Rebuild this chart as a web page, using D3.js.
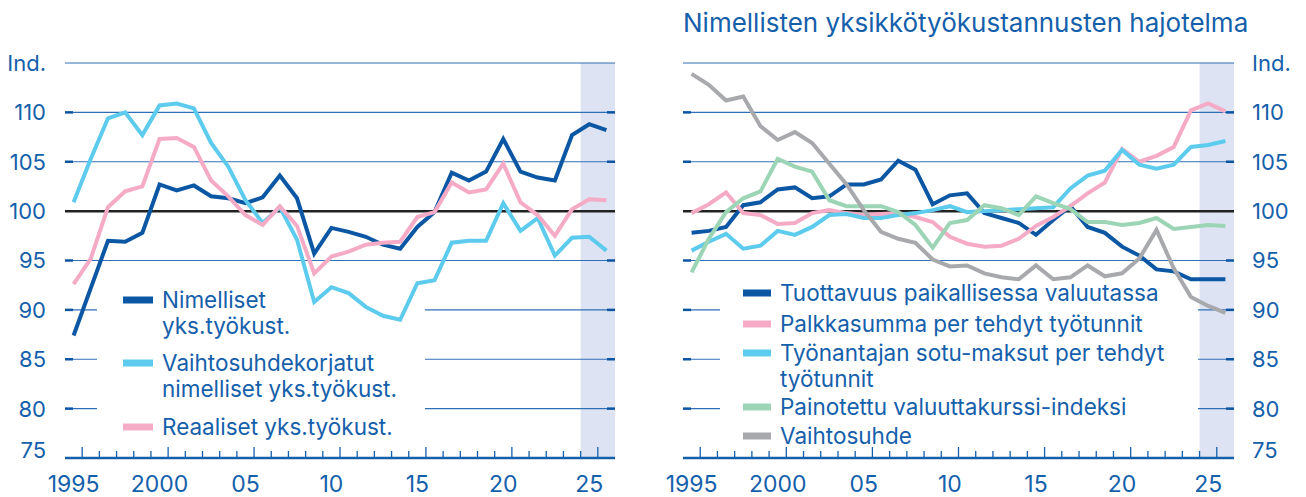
<!DOCTYPE html>
<html>
<head>
<meta charset="UTF-8">
<title>Yksikkötyökustannukset</title>
<script src="https://d3js.org/d3.v7.min.js"></script>
<style>
  body { margin: 0; background: #fff; }
  svg { display: block; font-family: Inter, Roboto, "Noto Sans", sans-serif; }
  .lbl { fill: #1560ab; font-size: 22.5px; }
  .series { fill: none; stroke-width: 4; stroke-linejoin: miter; }
</style>
</head>
<body>
<svg id="chart" width="1306" height="497"></svg>
<script>
// years 1995-2026, last two are forecast (shaded)
const years = d3.range(1995, 2027);
const yTicks = [80, 85, 90, 95, 100, 105, 110];
const xLabelYears = [1995, 2000, 2005, 2010, 2015, 2020, 2025];
const xLabelText = ["1995", "2000", "05", "10", "15", "20", "25"];

// left panel
const nimelliset = [87.4, 92.2, 97.0, 96.9, 97.8, 102.7, 102.1, 102.6, 101.5, 101.3, 100.8, 101.4, 103.6, 101.3, 95.7, 98.3,
  97.9, 97.4, 96.6, 96.2, 98.4, 99.9, 103.9, 103.1, 104.0, 107.3, 104.0, 103.4, 103.1, 107.7, 108.8, 108.2];
const vaihtosuhdekorj = [100.9, 105.3, 109.4, 110.0, 107.7, 110.7, 110.9, 110.4, 106.9, 104.5, 101.1, 98.8, 100.4, 97.1, 90.8, 92.3,
  91.7, 90.3, 89.4, 89.0, 92.7, 93.0, 96.8, 97.0, 97.0, 100.8, 98.0, 99.3, 95.5, 97.3, 97.4, 96.0];
const reaaliset = [92.6, 95.2, 100.4, 102.0, 102.5, 107.3, 107.4, 106.5, 103.1, 101.5, 99.6, 98.6, 100.5, 98.5, 93.7, 95.4,
  95.9, 96.6, 96.8, 96.9, 99.4, 99.9, 102.9, 101.9, 102.2, 104.8, 100.9, 99.6, 97.5, 100.2, 101.2, 101.1];

// right panel
const tuottavuus = [97.8, 98.0, 98.4, 100.6, 100.9, 102.2, 102.4, 101.3, 101.5, 102.7, 102.7, 103.2, 105.1, 104.2, 100.7, 101.6,
  101.8, 99.8, 99.3, 98.8, 97.6, 99.1, 100.5, 98.4, 97.8, 96.4, 95.5, 94.1, 93.9, 93.1, 93.1, 93.1];
const palkkasumma = [99.8, 100.7, 101.9, 99.8, 99.6, 98.7, 98.8, 99.8, 100.1, 99.8, 99.6, 99.7, 99.8, 99.4, 98.9, 97.4,
  96.7, 96.4, 96.5, 97.2, 98.5, 99.4, 100.5, 101.8, 102.9, 106.3, 105.0, 105.6, 106.5, 110.2, 110.9, 110.1];
const sotumaksut = [96.0, 96.9, 97.7, 96.2, 96.5, 98.0, 97.6, 98.4, 99.6, 99.7, 99.3, 99.3, 99.6, 99.8, 100.1, 100.5,
  99.9, 100.0, 100.1, 100.2, 100.3, 100.4, 102.3, 103.6, 104.1, 106.2, 104.7, 104.3, 104.7, 106.5, 106.7, 107.1];
const valuuttakurssi = [93.8, 97.2, 99.9, 101.3, 102.0, 105.3, 104.5, 104.0, 101.1, 100.5, 100.5, 100.5, 99.9, 98.6, 96.3, 98.8,
  99.1, 100.6, 100.3, 99.6, 101.5, 100.8, 100.2, 98.9, 98.9, 98.6, 98.8, 99.3, 98.2, 98.4, 98.6, 98.5];
const vaihtosuhde = [113.9, 112.8, 111.2, 111.6, 108.6, 107.2, 108.0, 106.9, 104.8, 102.7, 100.1, 97.9, 97.2, 96.8, 95.1, 94.4,
  94.5, 93.7, 93.3, 93.1, 94.5, 93.1, 93.3, 94.5, 93.4, 93.7, 95.2, 98.1, 94.2, 91.3, 90.4, 89.7];

const navy = "#0b57a4", cyan = "#5ccbed", pink = "#f5abc6", green = "#9cd5b5", grey = "#a8a9ad";
const textBlue = "#1560ab", gridBlue = "#2f6fb6";

const svg = d3.select("#chart");
const y = d3.scaleLinear().domain([75, 115]).range([458, 63]);

function drawPanel(p) {
  const x = d3.scaleLinear().domain([1994.5, 2026.5]).range([p.x0, p.x1]);
  const g = svg.append("g");

  // forecast shading
  g.append("rect")
    .attr("x", x(2024.5)).attr("y", y(115))
    .attr("width", x(2026.5) - x(2024.5)).attr("height", y(75) - y(115))
    .attr("fill", "#dde3f2");

  // grid
  g.selectAll("line.grid")
    .data(yTicks.filter(d => d !== 100).concat([115]))
    .join("line")
    .attr("x1", p.x0).attr("x2", p.x1)
    .attr("y1", d => y(d)).attr("y2", d => y(d))
    .attr("stroke", gridBlue).attr("stroke-width", 1.2);

  // legend background hides grid
  g.append("rect")
    .attr("x", p.legendBox[0]).attr("y", 268)
    .attr("width", p.legendBox[1] - p.legendBox[0]).attr("height", 184)
    .attr("fill", "#fff");

  // small ticks at both ends of grid lines
  [[p.x0, p.x0 + 8], [p.x1 - 8, p.x1]].forEach(([a, b]) => {
    g.selectAll(null)
      .data(yTicks.filter(d => d !== 100))
      .join("line")
      .attr("x1", a).attr("x2", b)
      .attr("y1", d => y(d)).attr("y2", d => y(d))
      .attr("stroke", "#0b55a2").attr("stroke-width", 2.5);
  });

  // 100 line
  g.append("line")
    .attr("x1", p.x0).attr("x2", p.x1)
    .attr("y1", y(100)).attr("y2", y(100))
    .attr("stroke", "#222").attr("stroke-width", 2.5);

  // x axis
  g.append("line")
    .attr("x1", p.x0).attr("x2", p.x1)
    .attr("y1", y(75)).attr("y2", y(75))
    .attr("stroke", "#1560ab").attr("stroke-width", 2.5);

  g.selectAll("line.xt")
    .data(d3.range(1995, 2026))
    .join("line")
    .attr("x1", d => x(d + 0.5)).attr("x2", d => x(d + 0.5))
    .attr("y1", y(75)).attr("y2", d => y(75) - (d % 5 === 0 ? 11 : 7))
    .attr("stroke", "#1560ab").attr("stroke-width", 1.3);

  g.selectAll("text.xl")
    .data(xLabelYears)
    .join("text")
    .attr("class", "lbl")
    .attr("x", d => x(d)).attr("y", 492)
    .attr("text-anchor", "middle")
    .style("font-size", "23px")
    .text((d, i) => xLabelText[i]);

  // y labels (75 sits a little above the axis)
  const anchor = p.labelSide === "left" ? "end" : "start";
  g.selectAll("text.yl")
    .data(yTicks.concat([75]))
    .join("text")
    .attr("class", "lbl")
    .attr("x", p.labelX).attr("y", d => d === 75 ? y(d) - 8 : y(d))
    .attr("dy", "0.36em")
    .attr("text-anchor", anchor)
    .style("font-size", "22px")
    .text(d => d);
  g.append("text")
    .attr("class", "lbl")
    .attr("x", p.labelX).attr("y", y(115))
    .attr("dy", "0.36em")
    .attr("text-anchor", anchor)
    .style("font-size", "22px")
    .text("Ind.");

  // lines
  const line = d3.line().x((d, i) => x(years[i])).y(d => y(d));
  p.series.forEach(s => {
    g.append("path")
      .attr("class", "series")
      .attr("stroke", s.color)
      .attr("d", line(s.values));
  });

  // legend
  p.series.forEach(s => {
    g.append("line")
      .attr("x1", p.swatch[0]).attr("x2", p.swatch[1])
      .attr("y1", s.ly).attr("y2", s.ly)
      .attr("stroke", s.color).attr("stroke-width", 7);
    s.label.forEach((t, k) => {
      g.append("text")
        .attr("class", "lbl")
        .attr("x", p.swatch[1] + 9)
        .attr("y", s.ly + k * 26)
        .attr("dy", "0.36em")
        .text(t);
    });
  });
}

drawPanel({
  x0: 65, x1: 615, labelX: 46, labelSide: "left",
  legendBox: [97, 425], swatch: [123, 153],
  series: [
    { values: nimelliset, color: navy, label: ["Nimelliset", "yks.työkust."], ly: 300 },
    { values: vaihtosuhdekorj, color: cyan, label: ["Vaihtosuhdekorjatut", "nimelliset yks.työkust."], ly: 363 },
    { values: reaaliset, color: pink, label: ["Reaaliset yks.työkust."], ly: 427 }
  ]
});

drawPanel({
  x0: 683, x1: 1234, labelX: 1252, labelSide: "right",
  legendBox: [720, 1198], swatch: [743, 771],
  series: [
    { values: tuottavuus, color: navy, label: ["Tuottavuus paikallisessa valuutassa"], ly: 293 },
    { values: palkkasumma, color: pink, label: ["Palkkasumma per tehdyt työtunnit"], ly: 324 },
    { values: sotumaksut, color: cyan, label: ["Työnantajan sotu-maksut per tehdyt", "työtunnit"], ly: 353 },
    { values: valuuttakurssi, color: green, label: ["Painotettu valuuttakurssi-indeksi"], ly: 407 },
    { values: vaihtosuhde, color: grey, label: ["Vaihtosuhde"], ly: 436 }
  ]
});

svg.append("text")
  .attr("class", "lbl")
  .attr("x", 683).attr("y", 32)
  .style("font-size", "26px")
  .text("Nimellisten yksikkötyökustannusten hajotelma");
</script>
</body>
</html>
